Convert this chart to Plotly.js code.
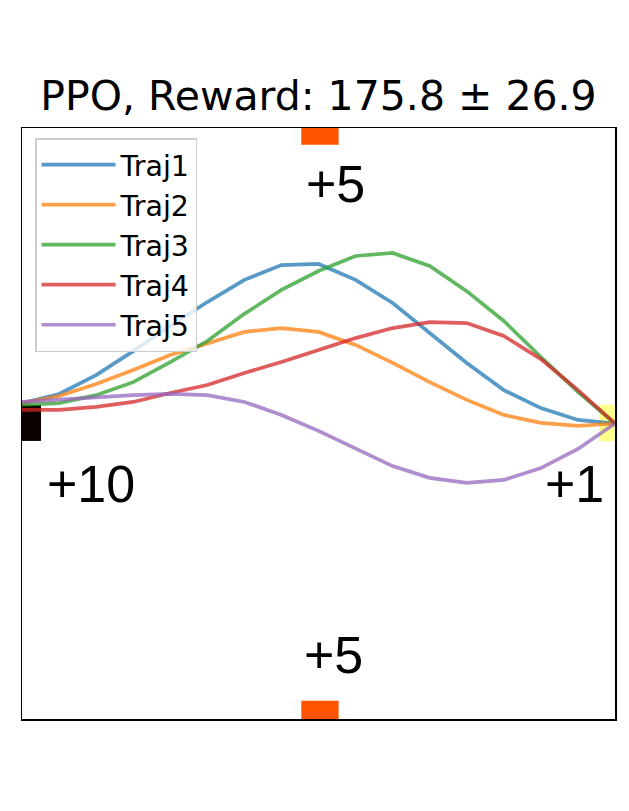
<!DOCTYPE html>
<html>
<head>
<meta charset="utf-8">
<script src="https://cdn.plot.ly/plotly-3.0.1.min.js"></script>
<style>html,body{margin:0;padding:0;background:#fff;}#chart{width:629px;height:811px;}</style>
</head>
<body>
<div id="chart"></div>
<script>
// Data
const xPos = [-1, -0.875, -0.75, -0.625, -0.5, -0.375, -0.25, -0.125, 0, 0.125, 0.25, 0.375, 0.5, 0.625, 0.75, 0.875, 1];
const seriesNames = ["Traj1", "Traj2", "Traj3", "Traj4", "Traj5"];
const traj1 = [0.069, 0.100, 0.164, 0.245, 0.330, 0.411, 0.486, 0.536, 0.540, 0.486, 0.408, 0.306, 0.205, 0.113, 0.052, 0.012, 0.0];
const traj2 = [0.069, 0.093, 0.134, 0.181, 0.232, 0.272, 0.310, 0.323, 0.310, 0.266, 0.205, 0.140, 0.080, 0.029, 0.002, -0.008, 0.0];
const traj3 = [0.063, 0.069, 0.096, 0.140, 0.208, 0.279, 0.371, 0.452, 0.516, 0.567, 0.577, 0.533, 0.448, 0.347, 0.225, 0.107, 0.0];
const traj4 = [0.046, 0.046, 0.056, 0.073, 0.103, 0.130, 0.171, 0.208, 0.249, 0.289, 0.323, 0.343, 0.340, 0.296, 0.218, 0.113, 0.0];
const traj5 = [0.073, 0.080, 0.090, 0.096, 0.100, 0.096, 0.073, 0.029, -0.025, -0.086, -0.144, -0.184, -0.201, -0.191, -0.151, -0.086, 0.0];
const seriesValues = [traj1, traj2, traj3, traj4, traj5];

// Reward regions: label, region centre (x, y), label position (x, y)
const rewardLabels = ["+5", "+5", "+10", "+1"];
const rewardCentreX = [0.005, 0.005, -0.968, 0.973];
const rewardCentreY = [0.973, -0.970, 0.002, 0.002];
const rewardLabelX = [0.059, 0.052, -0.767, 0.862];
const rewardLabelY = [0.81, -0.785, -0.205, -0.205];
const titleText = "PPO, Reward: 175.8 \u00b1 26.9";

// Styles
const colors = ["rgba(31,119,180,0.75)", "rgba(255,127,14,0.75)", "rgba(44,160,44,0.75)", "rgba(214,39,40,0.75)", "rgba(148,103,189,0.75)"];
const regionColors = ["#ff5500", "#ff5500", "#0d0000", "rgba(255,255,100,0.75)"];
const regionHalfW = [0.063, 0.063, 0.032, 0.027];
const regionHalfH = [0.030, 0.032, 0.061, 0.062];

const traces = seriesNames.map((n, i) => ({
  x: xPos, y: seriesValues[i], type: "scatter", mode: "lines", name: n,
  line: {color: colors[i], width: 3.7}
}));

const shapes = rewardLabels.map((l, i) => ({
  type: "rect", xref: "x", yref: "y", layer: "below",
  x0: rewardCentreX[i] - regionHalfW[i], x1: rewardCentreX[i] + regionHalfW[i],
  y0: rewardCentreY[i] - regionHalfH[i], y1: rewardCentreY[i] + regionHalfH[i],
  fillcolor: regionColors[i], line: {width: 0}
}));

const annotations = rewardLabels.map((l, i) => ({
  text: l, x: rewardLabelX[i], y: rewardLabelY[i], xref: "x", yref: "y",
  showarrow: false, xanchor: "center", yanchor: "middle",
  font: {family: "Liberation Sans, Arial, sans-serif", size: 52, color: "#000"}
}));

const axisCommon = {
  range: [-1, 1], showgrid: false, zeroline: false, showticklabels: false, ticks: "",
  showline: true, mirror: true, linecolor: "#000", linewidth: 1.5, fixedrange: true
};

const layout = {
  width: 629, height: 811,
  margin: {l: 22, r: 14, t: 128, b: 92, pad: 0},
  paper_bgcolor: "#fff", plot_bgcolor: "#fff",
  title: {text: titleText, xref: "paper", x: 0.5, xanchor: "center", yref: "container", y: 1 - 96/811, yanchor: "middle",
          font: {family: "DejaVu Sans, sans-serif", size: 41, color: "#000"}},
  xaxis: Object.assign({}, axisCommon),
  yaxis: Object.assign({}, axisCommon),
  showlegend: true,
  legend: {x: 0.022, y: 0.983, xanchor: "left", yanchor: "top", bgcolor: "rgba(255,255,255,0.8)",
           bordercolor: "#cccccc", borderwidth: 1.5, itemwidth: 74,
           font: {family: "DejaVu Sans, sans-serif", size: 28.5, color: "#000"}},
  shapes: shapes,
  annotations: annotations
};

Plotly.newPlot("chart", traces, layout, {displayModeBar: false, staticPlot: true});
</script>
</body>
</html>
